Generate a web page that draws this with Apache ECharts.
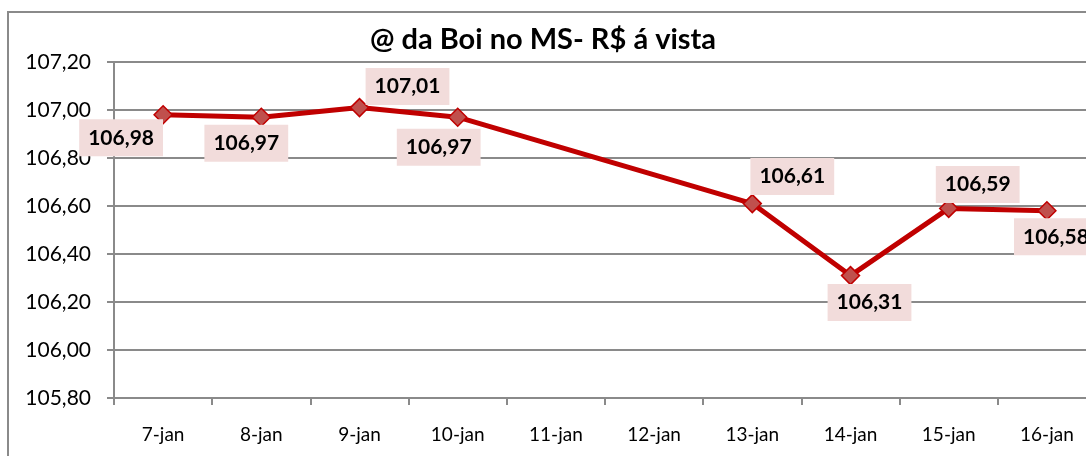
<!DOCTYPE html>
<html>
<head>
<meta charset="utf-8">
<script src="https://cdn.jsdelivr.net/npm/echarts@6/dist/echarts.min.js"></script>
<style>
  html, body { margin: 0; padding: 0; background: #fff; }
  #line { width: 1086px; height: 456px; }
</style>
</head>
<body>
<div id="line"></div>
<script>
var dias = ['7-jan', '8-jan', '9-jan', '10-jan', '11-jan', '12-jan', '13-jan', '14-jan', '15-jan', '16-jan'];
var precos = [106.98, 106.97, 107.01, 106.97, null, null, 106.61, 106.31, 106.59, 106.58];
var yTicks = [105.8, 106.0, 106.2, 106.4, 106.6, 106.8, 107.0, 107.2];

// deslocamento dos rotulos (x, y) em relacao ao ponto
var rotuloOffset = [[-42, 23], [-15, 26], [48, -21], [-19, 30], null, null, [40, -27], [19, 27], [29, -24], [9, 26]];

function fmt(v) {
    return v.toFixed(2).replace('.', ',');
}

var myChart = echarts.init(document.getElementById('line'));

var pontos = precos.map(function (v, i) {
    if (v === null) return null;
    return {
        value: v,
        label: { offset: rotuloOffset[i] }
    };
});

var option = {
    animation: false,
    textStyle: { fontFamily: 'Lato' },
    title: {
        text: '@ da Boi no MS- R$ á vista',
        left: 'center',
        top: 20,
        textStyle: { fontFamily: 'Lato', fontSize: 29, fontWeight: 'bold', color: '#000' }
    },
    graphic: [{
        type: 'rect',
        shape: { x: 8, y: 12, width: 1200, height: 600 },
        style: { fill: 'none', stroke: '#8a8a8a', lineWidth: 2 },
        silent: true
    }],
    grid: {
        left: 114,
        top: 62,
        width: 982,
        bottom: 58,
        outerBoundsMode: 'none'
    },
    xAxis: {
        type: 'category',
        data: dias,
        boundaryGap: true,
        axisLine: { lineStyle: { color: '#8a8a8a', width: 2 } },
        axisTick: { show: true, length: 7, lineStyle: { color: '#8a8a8a', width: 2 } },
        axisLabel: { color: '#000', fontSize: 19, margin: 27 },
        splitLine: { show: false }
    },
    yAxis: {
        type: 'value',
        min: 105.8,
        max: 107.2,
        interval: 0.2,
        axisLine: { show: true, lineStyle: { color: '#8a8a8a', width: 2 } },
        axisTick: { show: true, length: 7, lineStyle: { color: '#8a8a8a', width: 2 } },
        axisLabel: {
            color: '#000',
            fontSize: 21,
            margin: 23,
            formatter: function (v) { return fmt(v); }
        },
        splitLine: { show: true, lineStyle: { color: '#8a8a8a', width: 2 } }
    },
    series: [{
        name: 'preco',
        type: 'line',
        data: pontos,
        connectNulls: true,
        symbol: 'diamond',
        symbolSize: 18,
        lineStyle: { color: '#c00000', width: 5 },
        itemStyle: { color: '#c0504d', borderColor: '#c00000', borderWidth: 1.5 },
        label: {
            show: true,
            position: 'inside',
            fontFamily: 'Lato',
            fontSize: 21,
            fontWeight: 'bold',
            color: '#000',
            backgroundColor: '#f2dcdb',
            padding: [8, 9, 8, 9],
            formatter: function (p) { return fmt(p.value); }
        },
        z: 3
    }]
};
myChart.setOption(option);
</script>
</body>
</html>
